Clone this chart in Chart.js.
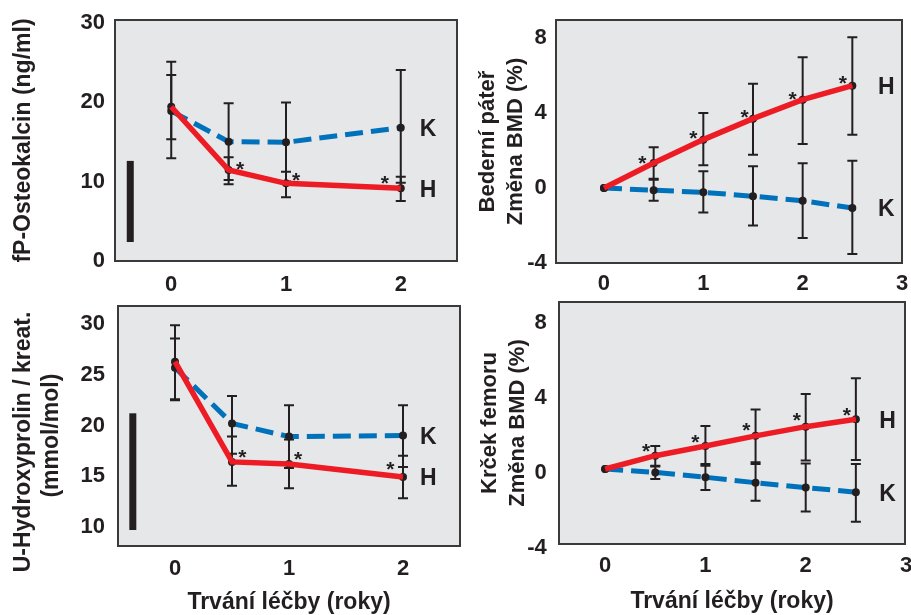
<!DOCTYPE html>
<html><head><meta charset="utf-8">
<script src="https://cdn.jsdelivr.net/npm/chart.js@4.4.1/dist/chart.umd.min.js"></script>
<style>
html,body{margin:0;padding:0;background:#fff;}
#wrap{position:relative;width:911px;height:615px;overflow:hidden;background:#fff;}
canvas{position:absolute;left:0;top:0;}
</style></head><body>
<div id="wrap">
<canvas id="c1" width="911" height="615"></canvas>
<canvas id="c2" width="911" height="615"></canvas>
<canvas id="c3" width="911" height="615"></canvas>
<canvas id="c4" width="911" height="615"></canvas>
</div>
<script>
// ================= DATA =================
const seriesNames = ['H', 'K'];
const xTitle = 'Trvání léčby (roky)';

// Panel 1: fP-Osteokalcin
const osteoYears = [0, 0.5, 1, 2];
const osteoH = [19.45, 11.45, 9.76, 9.13];
const osteoHLow = [12.93, 9.64, 7.99, 7.53];
const osteoHHigh = [25.15, 13.05, 11.23, 10.6];
const osteoK = [18.9, 15.03, 14.95, 16.8];
const osteoKLow = [15.33, 10.18, 10.0, 9.84];
const osteoKHigh = [23.46, 19.88, 20.0, 24.1];
const osteoStars = [false, true, true, true];
const osteoBarX = [-0.357, -0.357];
const osteoBarY = [2.34, 12.6];
const osteoYTicks = [0, 10, 20, 30];
const osteoTitle = ['fP-Osteokalcin (ng/ml)'];

// Panel 2: Bederní páteř BMD
const spineYears = [0, 0.5, 1, 1.5, 2, 2.5];
const spineH = [0, 1.33, 2.58, 3.70, 4.71, 5.46];
const spineHLow = [null, 0.49, 1.21, 1.78, 2.35, 2.84];
const spineHHigh = [null, 2.17, 4.0, 5.56, 6.97, 8.04];
const spineK = [0, -0.12, -0.23, -0.44, -0.68, -1.07];
const spineKLow = [null, -0.68, -1.3, -2.0, -2.67, -3.52];
const spineKHigh = [null, 0.44, 0.89, 1.16, 1.32, 1.46];
const spineStars = [false, true, true, true, true, true];
const spineYTicks = [-4, 0, 4, 8];
const spineTitle = ['Bederní páteř', 'Změna BMD (%)'];

// Panel 3: U-Hydroxyprolin / kreat.
const hypYears = [0, 0.5, 1, 2];
const hypH = [26.3, 16.4, 16.2, 14.9];
const hypHLow = [22.6, 14.05, 13.8, 12.8];
const hypHHigh = [29.9, 18.9, 18.6, 17.0];
const hypK = [25.7, 20.2, 18.9, 19.0];
const hypKLow = [22.5, 17.2, 15.8, 15.9];
const hypKHigh = [28.6, 22.9, 22.0, 22.0];
const hypStars = [false, true, true, true];
const hypBarX = [-0.37, -0.37];
const hypBarY = [9.67, 21.2];
const hypYTicks = [10, 15, 20, 25, 30];
const hypTitle = ['U-Hydroxyprolin / kreat.     ', '(mmol/mol)   '];

// Panel 4: Krček femoru BMD
const femYears = [0, 0.5, 1, 1.5, 2, 2.5];
const femH = [0.23, 0.94, 1.46, 2.0, 2.49, 2.88];
const femHLow = [null, 0.41, 0.41, 0.59, 0.68, 0.71];
const femHHigh = [null, 1.46, 2.52, 3.41, 4.23, 5.07];
const femK = [0.23, 0.05, -0.21, -0.5, -0.76, -1.01];
const femKLow = [null, -0.3, -0.89, -1.46, -2.04, -2.58];
const femKHigh = [null, 0.36, 0.5, 0.5, 0.53, 0.5];
const femStars = [false, true, true, true, true, true];
const femYTicks = [-4, 0, 4, 8];
const femTitle = ['Krček femoru', 'Změna BMD (%)'];

const xTicksLeft = [0, 1, 2];
const xTicksRight = [0, 1, 2, 3];

// ================= STYLE =================
const INK = '#231f20', RED = '#ed1c24', BLUE = '#0072bc', BG = '#e6e7e8', FRAME = '#3a3a3a';
const FAMILY = "'Liberation Sans', Arial, Helvetica, sans-serif";
const W = 911, HGT = 615;

const panelPlugin = {
  id: 'panel',
  beforeDraw(chart, args, o) {
    const {ctx, chartArea: a} = chart;
    ctx.save();
    ctx.fillStyle = BG;
    ctx.fillRect(a.left, a.top, a.right - a.left, a.bottom - a.top);
    ctx.restore();
  },
  beforeDatasetsDraw(chart, args, o) {
    const {ctx} = chart; const xs = chart.scales.x, ys = chart.scales.y;
    ctx.save();
    ctx.strokeStyle = INK; ctx.lineWidth = 2;
    chart.data.datasets.forEach(ds => {
      if (!ds.errLow) return;
      ds.data.forEach((p, i) => {
        const lo = ds.errLow[i], hi = ds.errHigh[i];
        if (lo == null || hi == null) return;
        const px = xs.getPixelForValue(p.x);
        const y1 = ys.getPixelForValue(lo), y2 = ys.getPixelForValue(hi);
        ctx.beginPath();
        ctx.moveTo(px, y1); ctx.lineTo(px, y2);
        ctx.moveTo(px - 5, y1); ctx.lineTo(px + 5, y1);
        ctx.moveTo(px - 5, y2); ctx.lineTo(px + 5, y2);
        ctx.stroke();
      });
    });
    ctx.restore();
  },
  afterDatasetsDraw(chart, args, o) {
    const {ctx} = chart; const xs = chart.scales.x, ys = chart.scales.y;
    ctx.save();
    ctx.fillStyle = INK;
    chart.data.datasets.forEach(ds => {
      const n = ds.data.length;
      if (ds.endLabel) {
        const p = ds.data[n - 1];
        ctx.font = 'bold 23px ' + FAMILY;
        ctx.textAlign = 'left'; ctx.textBaseline = 'middle';
        ctx.fillText(ds.endLabel, xs.getPixelForValue(p.x) + o.labelDx, ys.getPixelForValue(p.y) + o.labelDy);
      }
      if (ds.stars) {
        ctx.font = 'bold 21px ' + FAMILY;
        ctx.textAlign = 'center'; ctx.textBaseline = 'middle';
        ds.data.forEach((p, i) => {
          if (!ds.stars[i] || !o.starOff[i]) return;
          ctx.fillText('*', xs.getPixelForValue(p.x) + o.starOff[i][0], ys.getPixelForValue(p.y) + o.starOff[i][1] + 4.2);
        });
      }
    });
    ctx.restore();
  },
  afterDraw(chart) {
    const {ctx, chartArea: a} = chart;
    ctx.save();
    ctx.strokeStyle = FRAME; ctx.lineWidth = 2;
    ctx.strokeRect(a.left, a.top, a.right - a.left, a.bottom - a.top);
    ctx.restore();
  }
};

function pts(xs, ys) { return xs.map((x, i) => ({x, y: ys[i]})); }

function makePanel(id, c) {
  const datasets = [];
  if (c.barX) {
    datasets.push({data: pts(c.barX, c.barY), borderColor: INK, borderWidth: 7, borderCapStyle: 'butt',
      pointRadius: 0, order: 6});
  }
  datasets.push({label: seriesNames[1], data: pts(c.years, c.k), borderColor: BLUE, borderWidth: 5,
    borderDash: [18, 8], pointRadius: 4, pointBackgroundColor: INK, pointBorderWidth: 0,
    errLow: c.kLow, errHigh: c.kHigh, endLabel: seriesNames[1], order: 5});
  datasets.push({data: pts(c.years, c.h), showLine: false, pointRadius: 4, pointBackgroundColor: INK,
    pointBorderWidth: 0, order: 4});
  datasets.push({label: seriesNames[0], data: pts(c.years, c.h), borderColor: RED, borderWidth: 5.5,
    pointRadius: 0, errLow: c.hLow, errHigh: c.hHigh, endLabel: seriesNames[0], stars: c.stars, order: 3});

  const tickFont = {family: FAMILY, size: 22, weight: 'bold', lineHeight: '24px'};
  new Chart(document.getElementById(id), {
    type: 'line',
    data: {datasets},
    plugins: [panelPlugin],
    options: {
      responsive: false, animation: false, events: [],
      layout: {padding: {left: c.padL, right: W - c.box[2], top: c.box[1], bottom: HGT - c.box[3] - c.hx}},
      elements: {line: {tension: 0, fill: false}},
      plugins: {
        legend: {display: false}, tooltip: {enabled: false},
        panel: {labelDx: c.labelDx, labelDy: 2, starOff: c.starOff}
      },
      scales: {
        x: {
          type: 'linear', min: c.xMin, max: c.xMax,
          afterBuildTicks: s => { s.ticks = c.xTicks.map(v => ({value: v})); },
          afterFit: s => { s.height = c.hx; s.paddingLeft = 0; s.paddingRight = 0; },
          grid: {display: false, drawTicks: false}, border: {display: false},
          ticks: {color: INK, font: tickFont, padding: c.xPad, autoSkip: false, maxRotation: 0, minRotation: 0},
          title: {display: !!c.xTitle, text: c.xTitle || '', color: INK, padding: 0,
            font: {family: FAMILY, size: 23, weight: 'bold', lineHeight: '24px'}}
        },
        y: {
          type: 'linear', min: c.yMin, max: c.yMax,
          afterBuildTicks: s => { s.ticks = c.yTicks.map(v => ({value: v})); },
          afterFit: s => { s.width = c.box[0] - c.padL; s.paddingTop = 0; s.paddingBottom = 0; },
          grid: {display: false, drawTicks: false}, border: {display: false},
          ticks: {color: INK, font: tickFont, padding: c.yPad, autoSkip: false},
          title: {display: true, text: c.title, color: INK, padding: 0,
            font: {family: FAMILY, size: c.titleSize, weight: 'bold', lineHeight: '28px'}}
        }
      }
    }
  });
}

makePanel('c1', {
  box: [115, 20, 457, 261], padL: 10, hx: 40, xPad: 11.5, yPad: 10,
  xMin: -0.49, xMax: 2.49, yMin: -0.06, yMax: 30.42, xTicks: xTicksLeft, yTicks: osteoYTicks,
  title: osteoTitle, titleSize: 23,
  years: osteoYears, h: osteoH, hLow: osteoHLow, hHigh: osteoHHigh, k: osteoK, kLow: osteoKLow, kHigh: osteoKHigh,
  stars: osteoStars, barX: osteoBarX, barY: osteoBarY, labelDx: 19,
  starOff: [null, [11.5, -4.3], [10, -6.3], [-16, -8.3]]
});
makePanel('c2', {
  box: [556, 20, 902, 263], padL: 474.3, hx: 40, xPad: 9, yPad: 9.3,
  xMin: -0.483, xMax: 3.0, yMin: -4.0, yMax: 8.96, xTicks: xTicksRight, yTicks: spineYTicks,
  title: spineTitle, titleSize: 22,
  years: spineYears, h: spineH, hLow: spineHLow, hHigh: spineHHigh, k: spineK, kLow: spineKLow, kHigh: spineKHigh,
  stars: spineStars, labelDx: 25.6,
  starOff: [null, [-11.3, -3.4], [-10, -4.9], [-8.3, -4.6], [-10, -3.3], [-9.4, -5.9]]
});
makePanel('c3', {
  box: [118, 306, 460, 546], padL: 9.3, hx: 68.5, xPad: 11, yPad: 13, xTitle: xTitle,
  xMin: -0.5, xMax: 2.5, yMin: 8.09, yMax: 31.8, xTicks: xTicksLeft, yTicks: hypYTicks,
  title: hypTitle, titleSize: 23,
  years: hypYears, h: hypH, hLow: hypHLow, hHigh: hypHHigh, k: hypK, kLow: hypKLow, kHigh: hypKHigh,
  stars: hypStars, barX: hypBarX, barY: hypBarY, labelDx: 17,
  starOff: [null, [10.4, -8], [9, -8], [-12.6, -11.4]]
});
makePanel('c4', {
  box: [559, 302, 905, 544], padL: 476, hx: 69.7, xPad: 10, yPad: 12.3, xTitle: xTitle,
  xMin: -0.46, xMax: 2.99, yMin: -3.77, yMax: 9.14, xTicks: xTicksRight, yTicks: femYTicks,
  title: femTitle, titleSize: 22,
  years: femYears, h: femH, hLow: femHLow, hHigh: femHHigh, k: femK, kLow: femKLow, kHigh: femKHigh,
  stars: femStars, labelDx: 23.3,
  starOff: [null, [-9.3, -7.4], [-10, -6.6], [-9.3, -9.1], [-9, -9.3], [-9, -7.6]]
});
</script>
</body></html>
